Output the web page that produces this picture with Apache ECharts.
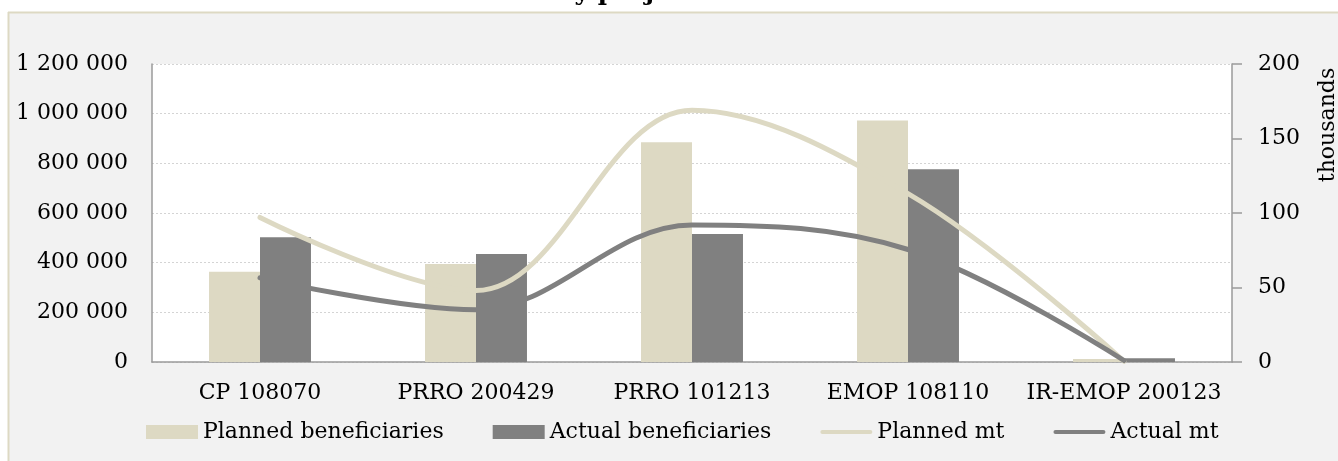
<!DOCTYPE html>
<html>
<head>
<meta charset="utf-8">
<script src="https://cdn.jsdelivr.net/npm/echarts@6/dist/echarts.min.js"></script>
<style>
  html, body { margin: 0; padding: 0; background: #ffffff; overflow: hidden; }
  #chart { width: 1338px; height: 461px; }
</style>
</head>
<body>
<div id="chart"></div>
<script>
// Projects shown along the category axis
var projects = ['CP 108070', 'PRRO 200429', 'PRRO 101213', 'EMOP 108110', 'IR-EMOP 200123'];

// Beneficiaries (left axis, persons)
var plannedBeneficiaries = [363000, 395000, 885000, 972000, 12000];
var actualBeneficiaries  = [502000, 435000, 515000, 776000, 15000];

// Food distributed (right axis, thousands of metric tonnes)
var plannedMt = [97, 48, 169, 113, 0.5];
var actualMt  = [56.5, 35, 92, 75.5, 1];

// Series names / legend text
var seriesNames = ['Planned beneficiaries', 'Actual beneficiaries', 'Planned mt', 'Actual mt'];

var TAN = '#DDD9C3';
var GREY = '#808080';
var FONT = 'DejaVu Serif';

function spaced(v) {
  return String(v).replace(/\B(?=(\d{3})+(?!\d))/g, ' ');
}

var chart = echarts.init(document.getElementById('chart'), null, { renderer: 'canvas' });

// rounded bar used as the legend glyph of the line series
var lineIcon = 'path://M2,0 H48 A2,2 0 0 1 48,4 H2 A2,2 0 0 1 2,0 Z';

chart.setOption({
  backgroundColor: '#ffffff',
  animation: false,
  textStyle: { fontFamily: FONT },
  graphic: [
    {
      type: 'rect', z: -10, silent: true,
      shape: { x: 8, y: 12, width: 1340, height: 460 },
      style: { fill: '#F2F2F2' }
    },
    {
      type: 'line', z: -9, silent: true,
      shape: { x1: 8, y1: 12.5, x2: 1338, y2: 12.5 },
      style: { stroke: TAN, lineWidth: 2 }
    },
    {
      type: 'line', z: -9, silent: true,
      shape: { x1: 8.5, y1: 12, x2: 8.5, y2: 461 },
      style: { stroke: TAN, lineWidth: 2 }
    },
    {
      type: 'text', z: 5, silent: true,
      x: 557, y: -7,
      style: {
        text: 'by project', fill: '#000000',
        font: 'bold 25px "' + FONT + '"',
        textAlign: 'left', textVerticalAlign: 'middle'
      }
    },
    {
      type: 'text', z: 5, silent: true,
      x: 1328, y: 125, rotation: Math.PI / 2,
      style: {
        text: 'thousands', fill: '#000000',
        font: '22px "' + FONT + '"',
        textAlign: 'center', textVerticalAlign: 'middle'
      }
    }
  ],
  grid: {
    left: 152, right: 106, top: 64, bottom: 99,
    show: true, backgroundColor: '#ffffff', borderWidth: 0
  },
  legend: {
    left: 146, top: 421, padding: 0,
    itemWidth: 52, itemHeight: 14, itemGap: 49,
    textStyle: { fontFamily: FONT, fontSize: 22, color: '#000000' },
    data: [
      { name: seriesNames[0], icon: 'rect' },
      { name: seriesNames[1], icon: 'rect' },
      { name: seriesNames[2], icon: lineIcon },
      { name: seriesNames[3], icon: lineIcon }
    ]
  },
  xAxis: {
    type: 'category',
    data: projects,
    axisLine: { show: true, lineStyle: { color: '#9a9a9a', width: 1.5 } },
    axisTick: { show: false },
    axisLabel: { color: '#000000', fontFamily: FONT, fontSize: 22, margin: 20, interval: 0 }
  },
  yAxis: [
    {
      type: 'value', min: 0, max: 1200000, interval: 200000,
      axisLine: { show: true, lineStyle: { color: '#9a9a9a', width: 1.5 } },
      axisTick: { show: false },
      axisLabel: {
        color: '#000000', fontFamily: FONT, fontSize: 22, margin: 24,
        formatter: function (v) { return spaced(v); }
      },
      splitLine: { show: true, lineStyle: { color: '#d4d4d4', type: [2, 2], width: 1 } }
    },
    {
      type: 'value', min: 0, max: 200, interval: 50, position: 'right',
      axisLine: { show: true, lineStyle: { color: '#9a9a9a', width: 1.5 } },
      axisTick: { show: true, length: 10, lineStyle: { color: '#9a9a9a', width: 1.5 } },
      axisLabel: { color: '#000000', fontFamily: FONT, fontSize: 22, margin: 26 },
      splitLine: { show: false }
    }
  ],
  series: [
    {
      name: seriesNames[0], type: 'bar', yAxisIndex: 0,
      data: plannedBeneficiaries,
      barGap: '0%', barCategoryGap: '52.8%',
      itemStyle: { color: TAN }
    },
    {
      name: seriesNames[1], type: 'bar', yAxisIndex: 0,
      data: actualBeneficiaries,
      barGap: '0%', barCategoryGap: '52.8%',
      itemStyle: { color: GREY }
    },
    {
      name: seriesNames[2], type: 'line', yAxisIndex: 1,
      data: plannedMt, smooth: 0.36, symbol: 'none',
      itemStyle: { color: TAN },
      lineStyle: { color: TAN, width: 5, cap: 'round' }
    },
    {
      name: seriesNames[3], type: 'line', yAxisIndex: 1,
      data: actualMt, smooth: 0.36, symbol: 'none',
      itemStyle: { color: GREY },
      lineStyle: { color: GREY, width: 5, cap: 'round' }
    }
  ]
});
</script>
</body>
</html>
